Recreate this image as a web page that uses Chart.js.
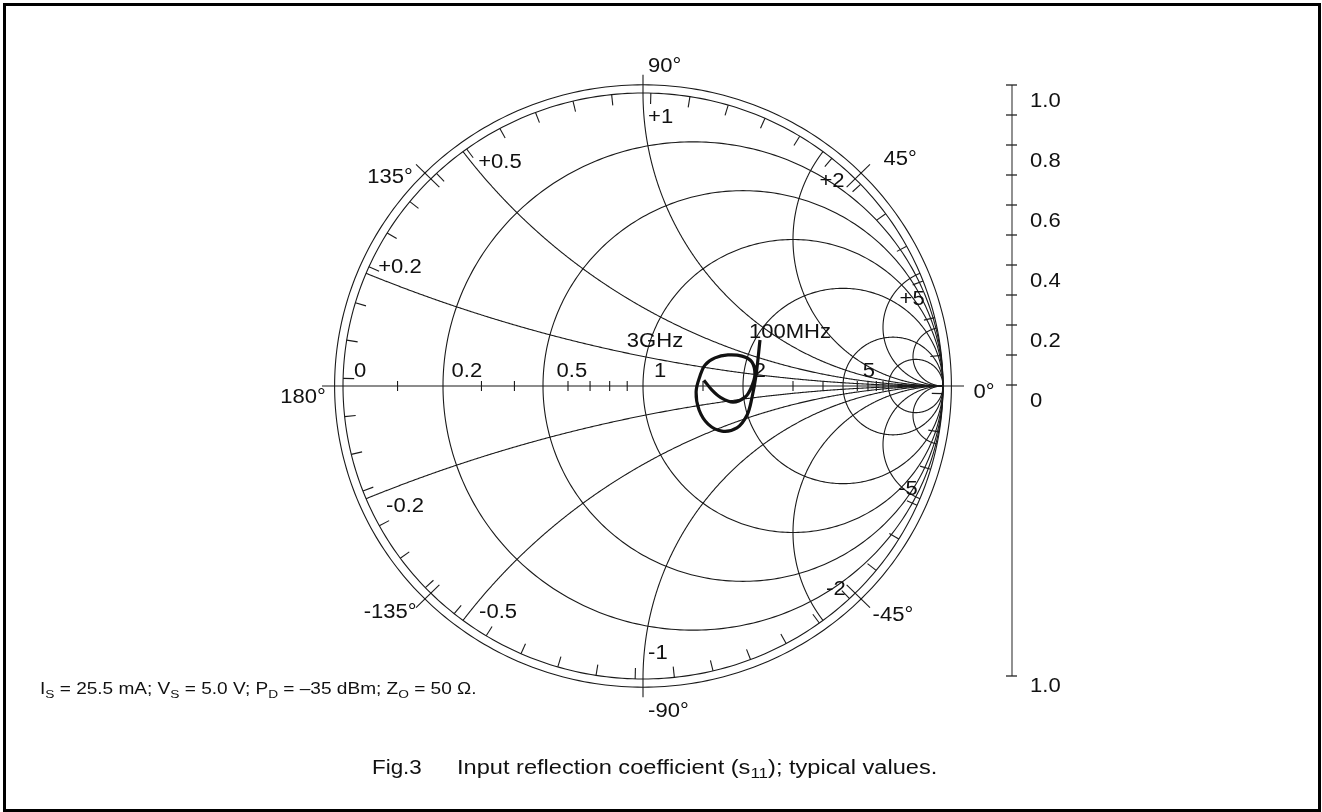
<!DOCTYPE html>
<html lang="en">
<head>
<meta charset="UTF-8">
<title>Fig.3 Input reflection coefficient</title>
<script src="https://cdn.jsdelivr.net/npm/chart.js@4.4.0/dist/chart.umd.min.js"></script>
<style>
    html, body { margin: 0; padding: 0; background: #fff; }
    #wrap { width: 1322px; height: 812px; }
</style>
</head>
<body>
<div id="wrap"><canvas id="smith" width="1322" height="812"></canvas></div>
<script>
    const s11Re = [0.390, 0.377, 0.363, 0.347, 0.313, 0.263, 0.217, 0.187, 0.177, 0.190, 0.207,
                   0.240, 0.283, 0.330, 0.363, 0.373, 0.360, 0.340, 0.300, 0.257, 0.230, 0.203];
    const s11Im = [0.157, 0.038, -0.041, -0.099, -0.143, -0.154, -0.130, -0.082, -0.020, 0.034, 0.072,
                   0.096, 0.106, 0.102, 0.082, 0.038, -0.007, -0.038, -0.055, -0.038, -0.014, 0.020];

    // smith chart grid
    const resistanceCircles = [0.2, 0.5, 1, 2, 5, 10];
    const reactanceArcs = [0.2, 0.5, 1, 2, 5, 10];
    const axisTicks = [0.1, 0.3, 0.4, 0.6, 0.7, 0.8, 0.9, 1.5, 3, 4, 6, 7, 8, 9];
    const resistanceLabels = ['0', '0.2', '0.5', '1', '2', '5'];
    const reactanceLabels = ['+0.2', '+0.5', '+1', '+2', '+5', '-0.2', '-0.5', '-1', '-2', '-5'];
    const angleLabels = ['0°', '45°', '90°', '135°', '180°', '-135°', '-90°', '-45°'];
    const freqLabels = ['100MHz', '3GHz'];

    // |gamma| scale at the right
    const magTicks = [0, 0.1, 0.2, 0.3, 0.4, 0.5, 0.6, 0.7, 0.8, 0.9, 1.0];
    const magLabels = ['0', '0.2', '0.4', '0.6', '0.8', '1.0'];

    // where the texts sit, in gamma units [u, v, align]
    const labelPos = {
        '0': [-0.943, 0.048], '0.2': [-0.587, 0.048], '0.5': [-0.237, 0.048],
        '1': [0.057, 0.048], '2': [0.390, 0.048], '5': [0.753, 0.048],
        '+0.2': [-0.810, 0.403], '+0.5': [-0.477, 0.761], '+1': [0.017, 0.915, 'left'],
        '+2': [0.630, 0.696], '+5': [0.897, 0.294],
        '-0.2': [-0.793, -0.410], '-0.5': [-0.483, -0.775], '-1': [0.017, -0.915, 'left'],
        '-2': [0.643, -0.696], '-5': [0.883, -0.355],
        '0°': [1.137, -0.024], '45°': [0.857, 0.771], '90°': [0.017, 1.089, 'left'],
        '135°': [-0.843, 0.710], '180°': [-1.133, -0.041], '-135°': [-0.843, -0.775],
        '-90°': [0.017, -1.113, 'left'], '-45°': [0.833, -0.782],
        '100MHz': [0.490, 0.181], '3GHz': [0.040, 0.150]
    };

    const FONT = '"Liberation Sans", Arial, Helvetica, sans-serif';
    const STRETCH = 1.13;   // the scanned lettering is a bit wider than Arial

    function text(ctx, str, x, y, align, size, k) {
        k = k || STRETCH;
        ctx.font = size + 'px ' + FONT;
        const w = ctx.measureText(str).width * k;
        const x0 = align === 'center' ? x - w / 2 : (align === 'right' ? x - w : x);
        ctx.save();
        ctx.translate(x0, y);
        ctx.scale(k, 1);
        ctx.textAlign = 'left';
        ctx.textBaseline = 'middle';
        ctx.fillText(str, 0, 0);
        ctx.restore();
        return w;
    }

    function drawRich(ctx, parts, x, y, size, k) {
        for (const [txt, sub] of parts) {
            if (sub) {
                x += text(ctx, txt, x, y + size * 0.3, 'left', size * 0.72, k);
            } else {
                x += text(ctx, txt, x, y, 'left', size, k);
            }
        }
    }

    const smithGrid = {
        id: 'smithGrid',
        beforeDatasetsDraw(chart) {
            const ctx = chart.ctx;
            const xs = chart.scales.x, ys = chart.scales.y, yr = chart.scales.yr;
            const P = (u, v) => [xs.getPixelForValue(u), ys.getPixelForValue(v)];
            const poly = (pts) => {
                ctx.beginPath();
                pts.forEach((p, i) => {
                    const q = P(p[0], p[1]);
                    if (i === 0) ctx.moveTo(q[0], q[1]); else ctx.lineTo(q[0], q[1]);
                });
                ctx.stroke();
            };
            const circle = (cu, cv, a) => {
                const pts = [];
                for (let i = 0; i <= 360; i++) {
                    const t = i * Math.PI / 180;
                    pts.push([cu + a * Math.cos(t), cv + a * Math.sin(t)]);
                }
                poly(pts);
            };

            ctx.save();
            // frame
            ctx.strokeStyle = '#000';
            ctx.lineWidth = 3;
            ctx.strokeRect(4.5, 4.5, chart.width - 7, chart.height - 6);

            ctx.strokeStyle = '#1a1a1a';
            ctx.lineWidth = 1.1;
            circle(0, 0, 1);
            circle(0, 0, 1.028);
            resistanceCircles.forEach(r => circle(r / (1 + r), 0, 1 / (1 + r)));
            reactanceArcs.forEach(x => {
                [x, -x].forEach(xx => {
                    const pts = [];
                    for (let i = 0; i <= 600; i++) {
                        const s = i / 600;
                        const t = s < 1 ? Math.pow(s / (1 - s), 1.3) : 1e6;
                        const d = (t + 1) * (t + 1) + xx * xx;
                        pts.push([(t * t - 1 + xx * xx) / d, 2 * xx / d]);
                    }
                    poly(pts);
                });
            });
            // real axis
            poly([[-1.07, 0], [1.07, 0]]);
            axisTicks.forEach(r => {
                const g = (r - 1) / (r + 1);
                const a = P(g, 0);
                ctx.beginPath();
                ctx.moveTo(a[0], a[1] - 5);
                ctx.lineTo(a[0], a[1] + 5);
                ctx.stroke();
            });
            // +-90 marks
            poly([[0, 1], [0, 1.062]]);
            poly([[0, -1], [0, -1.062]]);
            // angle ticks
            for (let k = 0; k < 48; k++) {
                const deg = k * 7.5 - 1.5;
                const th = deg * Math.PI / 180;
                poly([[0.963 * Math.cos(th), 0.963 * Math.sin(th)], [Math.cos(th), Math.sin(th)]]);
            }
            [45, 135, -45, -135].forEach(deg => {
                const th = deg * Math.PI / 180;
                poly([[0.96 * Math.cos(th), 0.96 * Math.sin(th)], [1.07 * Math.cos(th), 1.07 * Math.sin(th)]]);
            });

            // |gamma| scale
            ctx.strokeStyle = '#555';
            ctx.lineWidth = 1.3;
            const sx = xs.getPixelForValue(1.23);
            ctx.beginPath();
            ctx.moveTo(sx, yr.getPixelForValue(1.0));
            ctx.lineTo(sx, yr.getPixelForValue(-0.97));
            ctx.stroke();
            ctx.strokeStyle = '#222';
            magTicks.concat([-0.97]).forEach(m => {
                const py = yr.getPixelForValue(m);
                ctx.beginPath();
                ctx.moveTo(sx - 6, py);
                ctx.lineTo(sx + 5, py);
                ctx.stroke();
            });

            // texts
            ctx.fillStyle = '#111';
            const labels = resistanceLabels.concat(reactanceLabels, angleLabels, freqLabels);
            labels.forEach(l => {
                const p = labelPos[l];
                const q = P(p[0], p[1]);
                text(ctx, l, q[0], q[1], p[2] || 'center', 19.5);
            });
            const lx = xs.getPixelForValue(1.29);
            magLabels.forEach(l => {
                text(ctx, l, lx, yr.getPixelForValue(parseFloat(l) - 0.055), 'left', 19.5);
            });
            text(ctx, '1.0', lx, yr.getPixelForValue(-1.005), 'left', 19.5);

            // footnote and caption
            drawRich(ctx, [['I'], ['S', 1], [' = 25.5 mA; V'], ['S', 1], [' = 5.0 V; P'], ['D', 1],
                [' = \u201335 dBm; Z'], ['O', 1], [' = 50 \u03A9.']], 40, 690, 16, 1.19);
            text(ctx, 'Fig.3', 372, 768, 'left', 20, 1.12);
            drawRich(ctx, [['Input reflection coefficient (s'], ['11', 1], ['); typical values.']],
                457, 768, 20, 1.18);
            ctx.restore();
        }
    };

    const ctx = document.getElementById('smith').getContext('2d');
    new Chart(ctx, {
        type: 'scatter',
        data: {
            datasets: [{
                label: 's11',
                data: s11Re.map((u, i) => ({x: u, y: s11Im[i]})),
                showLine: true,
                tension: 0.35,
                borderColor: '#111',
                borderWidth: 3.2,
                pointRadius: 0
            }]
        },
        options: {
            responsive: false,
            animation: false,
            layout: {padding: 0},
            plugins: {legend: {display: false}, tooltip: {enabled: false}},
            scales: {
                x: {type: 'linear', min: -643 / 300, max: 679 / 300, display: false},
                y: {type: 'linear', min: -426 / 293, max: 386 / 293, display: false},
                yr: {type: 'linear', min: -427 / 300, max: 385 / 300, display: false}
            }
        },
        plugins: [smithGrid]
    });
</script>
</body>
</html>
